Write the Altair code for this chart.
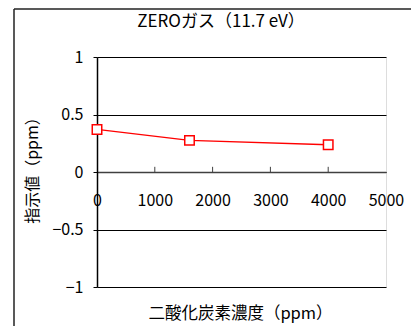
import altair as alt
import pandas as pd

# Data
co2_ppm = [0, 1600, 4000]
reading_ppm = [0.37, 0.275, 0.237]
x_ticks = [0, 1000, 2000, 3000, 4000, 5000]
y_ticks = [-1, -0.5, 0, 0.5, 1]

title_text = ["ZEROガス（11.7 eV）"]
x_title = "二酸化炭素濃度（ppm）"
y_title = "指示値（ppm）"

FONT = "Noto Sans CJK JP"
W, H = 289, 230

df = pd.DataFrame({"x": co2_ppm, "y": reading_ppm})
tick_df = pd.DataFrame({"x": x_ticks[1:-1]})
one = pd.DataFrame({"a": [0]})

xscale = alt.Scale(domain=[0, 5000], nice=False, zero=False)
yscale = alt.Scale(domain=[-1, 1], nice=False, zero=False)

x_axis = alt.Axis(
    values=x_ticks, format="d", offset=-115, ticks=False, grid=False,
    domainColor="#404040", domainWidth=1.5,
    labelFont=FONT, labelFontSize=16, labelColor="black", labelPadding=20,
    labelFlush=False,
    title=x_title, titleFont=FONT, titleFontSize=16.5, titleFontWeight="normal",
    titleColor="black", titleX=143, titleY=141, titleBaseline="middle",
    titleAnchor="middle",
)
y_axis = alt.Axis(
    values=y_ticks, format="~g", tickSize=4, tickColor="black",
    grid=True, gridColor="black", gridWidth=1,
    domainColor="black", domainWidth=1.5,
    labelFont=FONT, labelFontSize=16, labelColor="black", labelPadding=10,
    labelFlush=False,
    title=y_title, titleFont=FONT, titleFontSize=16, titleFontWeight="normal",
    titleColor="black", titleX=-65, titleY=109, titleAngle=-90,
    titleBaseline="middle", titleAlign="center",
)

frame_left = alt.Chart(one).mark_rule(color="#222222", strokeWidth=1.5).encode(
    x=alt.value(-83), y=alt.value(-48), y2=alt.value(300)
)
frame_top = alt.Chart(one).mark_rule(color="#222222", strokeWidth=1.5).encode(
    x=alt.value(-83), x2=alt.value(330), y=alt.value(-48)
)

title_mark = alt.Chart(pd.DataFrame({"t": title_text})).mark_text(
    font=FONT, fontSize=17, color="black", align="center", baseline="middle"
).encode(
    text="t:N", x=alt.value(124), y=alt.value(-35)
)

ticks = alt.Chart(tick_df).mark_rule(color="#404040", strokeWidth=1).encode(
    x=alt.X("x:Q", scale=xscale),
    y=alt.datum(0, scale=yscale),
    y2=alt.datum(0.045),
)

line = alt.Chart(df).mark_line(color="#FF0000", strokeWidth=1.3).encode(
    x=alt.X("x:Q", scale=xscale, axis=x_axis),
    y=alt.Y("y:Q", scale=yscale, axis=y_axis),
)
points = alt.Chart(df).mark_point(
    shape="square", filled=True, fill="white", stroke="#FF0000",
    strokeWidth=1.5, size=90, opacity=1
).encode(
    x=alt.X("x:Q", scale=xscale),
    y=alt.Y("y:Q", scale=yscale),
)

chart = alt.layer(frame_left, frame_top, title_mark, ticks, line, points).properties(
    width=W, height=H,
    autosize=alt.AutoSizeParams(type="none"),
    padding={"left": 89, "top": 49, "right": 25, "bottom": 39},
).configure_view(
    stroke="black", strokeWidth=1.5
).configure(background="white")

chart.save("out.html", embed_options={"renderer": "svg", "actions": False})
